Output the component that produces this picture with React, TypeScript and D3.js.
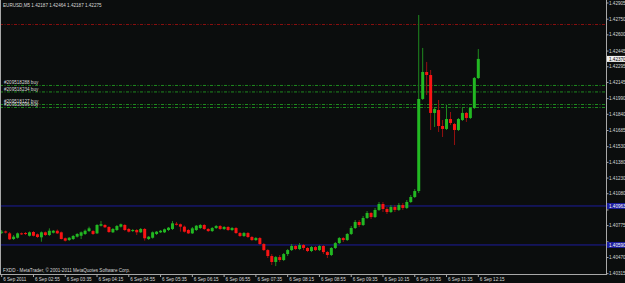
import React from 'react';
import * as d3 from 'd3';

const headerText = 'EURUSD,M5  1.42187 1.42464 1.42187 1.42275';
const copyrightText = 'FXDD - MetaTrader, \u00a9 2001-2011 MetaQuotes Software Corp.';

const timeLabels = [
  '6 Sep 2011', '6 Sep 02:55', '6 Sep 03:35', '6 Sep 04:15', '6 Sep 04:55', '6 Sep 05:35',
  '6 Sep 06:15', '6 Sep 06:55', '6 Sep 07:35', '6 Sep 08:15', '6 Sep 08:55', '6 Sep 09:35',
  '6 Sep 10:15', '6 Sep 10:55', '6 Sep 11:35', '6 Sep 12:15',
];
const barsPerTimeLabel = 8;

const priceTicks = [
  '1.42905', '1.42750', '1.42600', '1.42445', '1.42295', '1.42145', '1.41990', '1.41840', '1.41685',
  '1.41530', '1.41380', '1.41230', '1.41080', '1.40925', '1.40775', '1.40620', '1.40470', '1.40315',
];

const opens = [
  1.40707, 1.40719, 1.40701, 1.40647, 1.40659, 1.40701, 1.40704, 1.40678, 1.40714, 1.40692,
  1.40663, 1.40711, 1.40685, 1.40707, 1.40726, 1.40711, 1.40654, 1.40637, 1.40647, 1.40669,
  1.40678, 1.40695, 1.40723, 1.40723, 1.40701, 1.40774, 1.40781, 1.40762, 1.40711, 1.40733,
  1.40765, 1.40781, 1.40743, 1.40723, 1.40733, 1.40711, 1.40743, 1.40647, 1.40659, 1.40695,
  1.40711, 1.40711, 1.40733, 1.40743, 1.40793, 1.40788, 1.40765, 1.40733, 1.40701, 1.40733,
  1.40752, 1.40781, 1.40743, 1.40723, 1.40752, 1.40771, 1.40743, 1.40762, 1.40733, 1.40752,
  1.40704, 1.40676, 1.40704, 1.40666, 1.40637, 1.40656, 1.40599, 1.40541, 1.40484, 1.40427,
  1.40474, 1.40446, 1.40503, 1.40541, 1.40580, 1.40551, 1.40589, 1.40561, 1.40532, 1.40570,
  1.40541, 1.40580, 1.40522, 1.40494, 1.40561, 1.40608, 1.40656, 1.40637, 1.40695, 1.40752,
  1.40810, 1.40781, 1.40848, 1.40896, 1.40857, 1.40925, 1.40982, 1.40934, 1.40905, 1.40953,
  1.40925, 1.40972, 1.40944, 1.41001, 1.41049, 1.41106, 1.41987, 1.42245, 1.42216, 1.41853,
  1.41881, 1.41728, 1.41700, 1.41795, 1.41747, 1.41690, 1.41786, 1.41853, 1.41805, 1.41900,
  1.42187,
];
const highs = [
  1.40733, 1.40728, 1.40714, 1.40685, 1.40709, 1.40709, 1.40714, 1.40719, 1.40723, 1.40700,
  1.40719, 1.40719, 1.40749, 1.40733, 1.40738, 1.40719, 1.40661, 1.40666, 1.40685, 1.40704,
  1.40719, 1.40738, 1.40765, 1.40733, 1.40790, 1.40819, 1.40790, 1.40771, 1.40752, 1.40781,
  1.40795, 1.40790, 1.40752, 1.40743, 1.40743, 1.40752, 1.40752, 1.40676, 1.40719, 1.40723,
  1.40733, 1.40747, 1.40762, 1.40819, 1.40810, 1.40795, 1.40776, 1.40743, 1.40762, 1.40781,
  1.40790, 1.40790, 1.40752, 1.40762, 1.40781, 1.40781, 1.40771, 1.40771, 1.40762, 1.40762,
  1.40714, 1.40714, 1.40714, 1.40676, 1.40666, 1.40666, 1.40608, 1.40551, 1.40503, 1.40484,
  1.40494, 1.40513, 1.40551, 1.40599, 1.40589, 1.40608, 1.40599, 1.40570, 1.40580, 1.40580,
  1.40589, 1.40589, 1.40532, 1.40570, 1.40618, 1.40666, 1.40666, 1.40704, 1.40771, 1.40829,
  1.40829, 1.40867, 1.40915, 1.40905, 1.40944, 1.41001, 1.41001, 1.40953, 1.40972, 1.40972,
  1.40991, 1.40991, 1.41020, 1.41068, 1.41125, 1.42790, 1.42475, 1.42341, 1.42264, 1.41900,
  1.41977, 1.41786, 1.41929, 1.41862, 1.41757, 1.41805, 1.41900, 1.41862, 1.41910, 1.42197,
  1.42464,
];
const lows = [
  1.40695, 1.40700, 1.40637, 1.40637, 1.40651, 1.40685, 1.40685, 1.40671, 1.40671, 1.40656,
  1.40621, 1.40676, 1.40676, 1.40700, 1.40695, 1.40642, 1.40623, 1.40628, 1.40637, 1.40661,
  1.40647, 1.40685, 1.40714, 1.40685, 1.40695, 1.40767, 1.40752, 1.40704, 1.40704, 1.40723,
  1.40757, 1.40723, 1.40709, 1.40714, 1.40685, 1.40704, 1.40631, 1.40637, 1.40651, 1.40685,
  1.40704, 1.40704, 1.40723, 1.40733, 1.40776, 1.40717, 1.40709, 1.40695, 1.40695, 1.40723,
  1.40743, 1.40733, 1.40714, 1.40714, 1.40743, 1.40733, 1.40733, 1.40723, 1.40723, 1.40695,
  1.40666, 1.40666, 1.40656, 1.40628, 1.40628, 1.40589, 1.40532, 1.40465, 1.40398, 1.40388,
  1.40427, 1.40436, 1.40484, 1.40532, 1.40541, 1.40541, 1.40541, 1.40522, 1.40522, 1.40532,
  1.40532, 1.40503, 1.40465, 1.40484, 1.40551, 1.40599, 1.40618, 1.40628, 1.40685, 1.40743,
  1.40762, 1.40771, 1.40838, 1.40838, 1.40848, 1.40915, 1.40905, 1.40886, 1.40896, 1.40905,
  1.40915, 1.40925, 1.40934, 1.40991, 1.41039, 1.41087, 1.41977, 1.42025, 1.41690, 1.41719,
  1.41671, 1.41623, 1.41690, 1.41738, 1.41546, 1.41680, 1.41776, 1.41767, 1.41795, 1.41891,
  1.42178,
];
const closes = [
  1.40717, 1.40709, 1.40644, 1.40669, 1.40701, 1.40692, 1.40700, 1.40711, 1.40678, 1.40666,
  1.40711, 1.40685, 1.40726, 1.40726, 1.40701, 1.40647, 1.40631, 1.40659, 1.40676, 1.40695,
  1.40711, 1.40726, 1.40749, 1.40695, 1.40781, 1.40788, 1.40759, 1.40714, 1.40743, 1.40771,
  1.40788, 1.40733, 1.40717, 1.40733, 1.40711, 1.40743, 1.40654, 1.40669, 1.40711, 1.40717,
  1.40726, 1.40740, 1.40755, 1.40797, 1.40788, 1.40765, 1.40717, 1.40701, 1.40749, 1.40774,
  1.40781, 1.40743, 1.40723, 1.40752, 1.40771, 1.40743, 1.40762, 1.40733, 1.40752, 1.40704,
  1.40676, 1.40704, 1.40666, 1.40637, 1.40656, 1.40599, 1.40541, 1.40484, 1.40427, 1.40474,
  1.40446, 1.40503, 1.40541, 1.40580, 1.40551, 1.40589, 1.40561, 1.40532, 1.40570, 1.40541,
  1.40580, 1.40522, 1.40494, 1.40561, 1.40608, 1.40656, 1.40637, 1.40695, 1.40752, 1.40810,
  1.40781, 1.40848, 1.40896, 1.40857, 1.40925, 1.40982, 1.40934, 1.40905, 1.40953, 1.40925,
  1.40972, 1.40944, 1.41001, 1.41049, 1.41106, 1.41987, 1.42245, 1.42216, 1.41853, 1.41891,
  1.41728, 1.41700, 1.41795, 1.41757, 1.41690, 1.41795, 1.41853, 1.41805, 1.41900, 1.42187,
  1.42370,
];

const orderPrices = [1.42116, 1.42054, 1.41934, 1.41905];
const orderLabels = ['#209518288 buy', '#209518234 buy', '#209518127 buy', '#209518096 buy'];
const redLevel = 1.42699;
const blueLevels = [1.40963, 1.40590];

const BG = '#0b0d0d';
const AXIS = '#a8a8a8';
const TEXT = '#d8d8d8';
const FONT = "'Liberation Sans', Arial, sans-serif";

export default function App() {
  const plotRight = 606;
  const plotBottom = 274;
  const x = d3.scaleLinear().domain([0, 120]).range([1.7, 478.3]);
  const y = d3.scaleLinear().domain([1.40315, 1.42905]).range([273.7, 3]);
  const fs = 4.6;
  const lastClose = closes[closes.length - 1];
  const boxYs = [...blueLevels, lastClose].map((p) => y(p));

  return (
    <svg width={625} height={283} style={{ position: 'absolute', left: 0, top: 0 }} fontFamily={FONT}>
      <rect x={0} y={0} width={625} height={283} fill={BG} />

      <line x1={0} x2={plotRight} y1={y(redLevel)} y2={y(redLevel)} stroke="#8a1010" strokeWidth={1} strokeDasharray="3,1.5,1,1.5" />

      {orderPrices.map((p, k) => (
        <g key={'o' + k}>
          <line x1={0} x2={plotRight} y1={y(p)} y2={y(p)} stroke="#1f8a1f" strokeWidth={1} strokeDasharray="3,1.5,1,1.5" />
          <text x={4} y={y(p) - 1.2} fontSize={fs} fill={TEXT}>{orderLabels[k]}</text>
        </g>
      ))}

      {blueLevels.map((p, k) => (
        <line key={'b' + k} x1={0} x2={plotRight} y1={y(p)} y2={y(p)} stroke="#1c1c9c" strokeWidth={1} />
      ))}

      {opens.map((o, i) => {
        const c = closes[i];
        const up = c >= o;
        const cx = x(i);
        const top = y(Math.max(o, c));
        const bot = y(Math.min(o, c));
        return (
          <g key={'c' + i}>
            <line x1={cx} x2={cx} y1={y(highs[i])} y2={y(lows[i])} stroke={up ? '#1f8a1f' : '#961010'} strokeWidth={1} />
            <rect x={cx - 1.5} y={top} width={3} height={Math.max(1, bot - top)} fill={up ? '#22b822' : '#f81414'} />
          </g>
        );
      })}

      <text x={3} y={6.8} fontSize={fs} fill={TEXT}>{headerText}</text>
      <text x={3} y={271.5} fontSize={fs} fill={TEXT}>{copyrightText}</text>

      <line x1={0.5} x2={0.5} y1={0} y2={plotBottom} stroke={AXIS} strokeWidth={1} />
      <line x1={plotRight + 0.5} x2={plotRight + 0.5} y1={0} y2={plotBottom + 0.5} stroke={AXIS} strokeWidth={1} />
      <line x1={0} x2={plotRight + 1} y1={plotBottom + 0.5} y2={plotBottom + 0.5} stroke={AXIS} strokeWidth={1} />

      {priceTicks.map((t, k) => {
        const py = y(parseFloat(t));
        const hidden = boxYs.some((by) => Math.abs(by - py) < 5);
        return (
          <g key={'p' + k}>
            <line x1={plotRight} x2={plotRight + 2.5} y1={py} y2={py} stroke={AXIS} strokeWidth={1} />
            {!hidden && <text x={609} y={py + 1.6} fontSize={fs} fill={TEXT}>{t}</text>}
          </g>
        );
      })}

      {blueLevels.map((p, k) => (
        <g key={'bl' + k}>
          <rect x={plotRight + 1} y={y(p) - 3} width={19} height={6} fill="#1c1c9c" />
          <text x={609} y={y(p) + 1.6} fontSize={fs} fill="#ffffff">{p.toFixed(5)}</text>
        </g>
      ))}

      <rect x={plotRight + 1} y={y(lastClose) - 3} width={19} height={6} fill="#f0f0f0" />
      <text x={609} y={y(lastClose) + 1.6} fontSize={fs} fill="#000000">{lastClose.toFixed(5)}</text>

      {timeLabels.map((t, k) => {
        const tx = x(k * barsPerTimeLabel);
        return (
          <g key={'t' + k}>
            <line x1={tx} x2={tx} y1={plotBottom} y2={plotBottom + 3} stroke={AXIS} strokeWidth={1} />
            <text x={tx + 1.5} y={280.5} fontSize={fs} fill={TEXT}>{t}</text>
          </g>
        );
      })}
    </svg>
  );
}
